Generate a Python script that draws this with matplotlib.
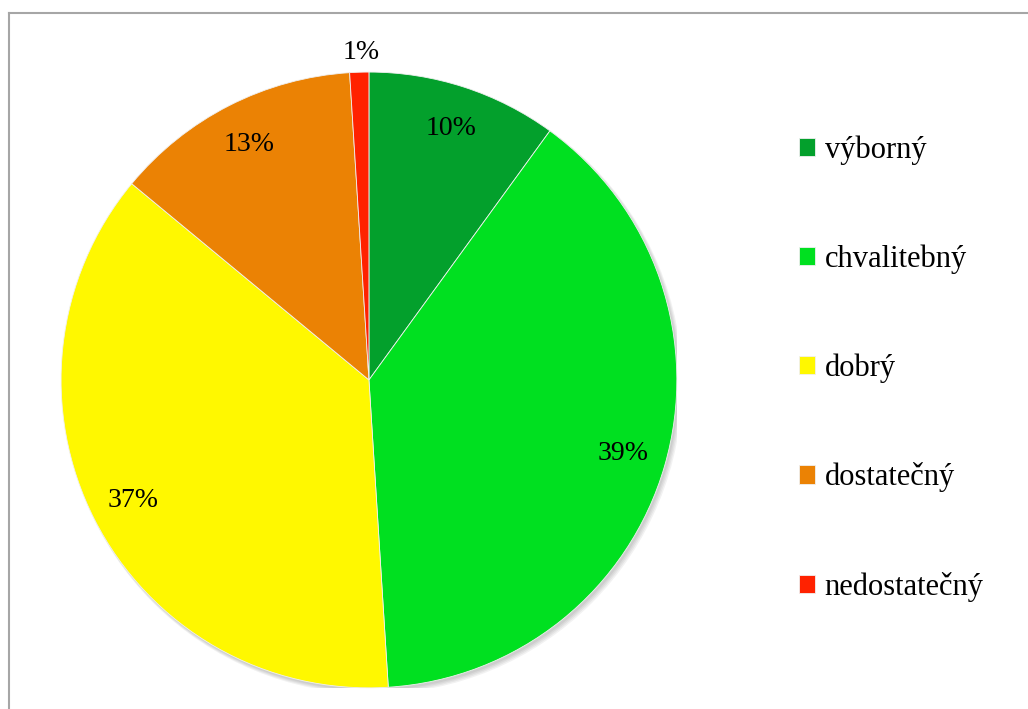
import matplotlib.pyplot as plt
from matplotlib.lines import Line2D
from matplotlib.patches import Circle

grades = ['výborný', 'chvalitebný', 'dobrý', 'dostatečný', 'nedostatečný']
shares = [10, 39, 37, 13, 1]
colors = ['#03a02c', '#00e020', '#fff800', '#eb8204', '#ff2200']

plt.rcParams['font.family'] = ['Liberation Serif', 'DejaVu Serif']

fig = plt.figure(figsize=(10.28, 7.09), dpi=100)
ax = fig.add_axes([0.0594, 0.0296, 0.599, 0.869])
ax.set_xlim(-1, 1)
ax.set_ylim(-1, 1)
ax.set_aspect('equal')
ax.axis('off')

# soft drop shadow under the pie
for i in range(4):
    ax.add_patch(Circle((0.006 + 0.002 * i, -0.008 - 0.002 * i), 1.0 + 0.002 * i,
                        color='black', alpha=0.05, lw=0, zorder=0))

wedges, texts, autotexts = ax.pie(shares, colors=colors, startangle=90, counterclock=False,
                                  autopct='%d%%', pctdistance=0.86, radius=1.0,
                                  wedgeprops=dict(linewidth=0.6, edgecolor='#f0f0f0'),
                                  textprops=dict(fontsize=20, color='black'))
ax.set_xlim(-1, 1)
ax.set_ylim(-1, 1)
# the thin red slice gets its label outside the rim
autotexts[-1].set_position((-0.025, 1.065))

leg = fig.legend(wedges, grades, loc='upper left', bbox_to_anchor=(0.765, 0.826),
                 frameon=False, fontsize=22, handlelength=0.55, handleheight=0.55,
                 handletextpad=0.3, labelspacing=2.6, borderaxespad=0)

# chart area border (top and left edges)
fig.add_artist(Line2D([9 / 1028, 1.0], [1 - 13 / 709, 1 - 13 / 709], color='#a6a6a6', lw=1.5))
fig.add_artist(Line2D([9 / 1028, 9 / 1028], [0.0, 1 - 13 / 709], color='#a6a6a6', lw=1.5))

fig.savefig('out.png', dpi=100)
